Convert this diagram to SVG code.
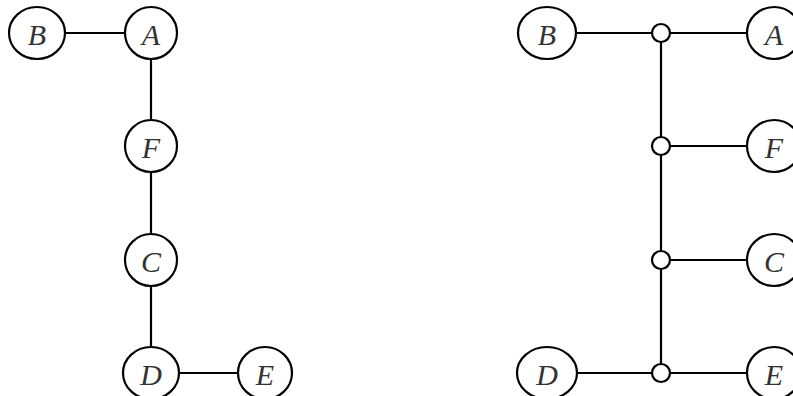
<svg xmlns="http://www.w3.org/2000/svg" width="793" height="396" viewBox="0 0 793 396">
<style>
.n ellipse{fill:#fff;stroke:#000;stroke-width:2.2}
.n text{font-family:"Liberation Serif",serif;font-style:italic;font-size:30px;fill:#333;text-anchor:middle;dominant-baseline:central}
.e line{stroke:#000;stroke-width:2.2}
.j circle{fill:#fff;stroke:#000;stroke-width:2.2}
</style>
<rect width="793" height="396" fill="#fff"/>
<g class="e">
<line x1="37" y1="33" x2="151" y2="33"/>
<line x1="151" y1="33" x2="151" y2="373"/>
<line x1="151" y1="373" x2="265" y2="373"/>
<line x1="547" y1="33" x2="774" y2="33"/>
<line x1="661" y1="33" x2="661" y2="373"/>
<line x1="661" y1="146" x2="774" y2="146"/>
<line x1="661" y1="260" x2="774" y2="260"/>
<line x1="547" y1="373" x2="774" y2="373"/>
</g>
<g class="n" id="L_B"><ellipse cx="37" cy="33" rx="28" ry="26"/><text x="37" y="34">B</text></g>
<g class="n" id="L_A"><ellipse cx="151" cy="33" rx="26" ry="26"/><text x="151" y="34">A</text></g>
<g class="n" id="L_F"><ellipse cx="151" cy="146" rx="26" ry="26"/><text x="151" y="147">F</text></g>
<g class="n" id="L_C"><ellipse cx="151" cy="260" rx="26" ry="26"/><text x="151" y="261">C</text></g>
<g class="n" id="L_D"><ellipse cx="151" cy="373" rx="28" ry="26"/><text x="151" y="374">D</text></g>
<g class="n" id="L_E"><ellipse cx="265" cy="373" rx="27" ry="26"/><text x="265" y="374">E</text></g>
<g class="n" id="R_B"><ellipse cx="547" cy="33" rx="29" ry="26"/><text x="547" y="34">B</text></g>
<g class="n" id="R_A"><ellipse cx="774" cy="33" rx="27" ry="26"/><text x="774" y="34">A</text></g>
<g class="n" id="R_F"><ellipse cx="774" cy="146" rx="27" ry="26"/><text x="774" y="147">F</text></g>
<g class="n" id="R_C"><ellipse cx="774" cy="260" rx="27" ry="26"/><text x="774" y="261">C</text></g>
<g class="n" id="R_D"><ellipse cx="547" cy="373" rx="30" ry="26"/><text x="547" y="374">D</text></g>
<g class="n" id="R_E"><ellipse cx="774" cy="373" rx="27" ry="26"/><text x="774" y="374">E</text></g>
<g class="j" id="junctions">
<circle cx="661" cy="33" r="9"/>
<circle cx="661" cy="146" r="9"/>
<circle cx="661" cy="260" r="9"/>
<circle cx="661" cy="373" r="9"/>
</g>
</svg>
